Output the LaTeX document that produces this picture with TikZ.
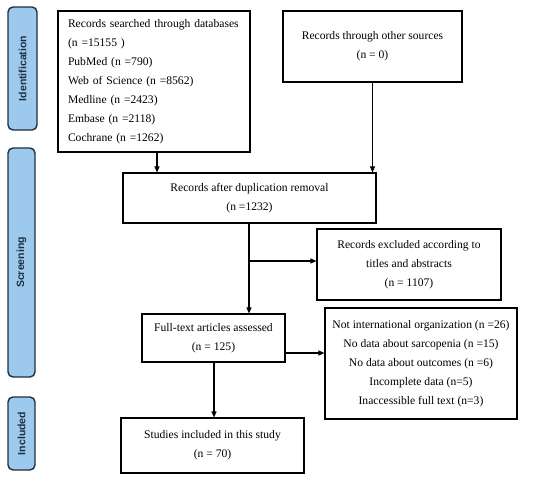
\documentclass[tikz,border=0pt]{standalone}
\usepackage{fontspec}
\setmainfont{Liberation Serif}
\newfontfamily\labfont{Liberation Sans}
\usetikzlibrary{arrows.meta}
\begin{document}
\begin{tikzpicture}[x=1pt,y=-1pt,
  box/.style={draw=black,line width=1.1pt,fill=white,inner sep=0pt,align=center,
    font=\fontsize{11.6}{19}\selectfont},
  phase/.style={draw=black!85!blue,line width=1.4pt,rounded corners=5pt,fill=cyan!25!blue!30!white,
    inner sep=0pt,font=\labfont\bfseries\fontsize{10.5}{12}\selectfont,text=black!90!blue},
  arr/.style={line width=1.1pt,-{Triangle[length=6pt,width=5pt]}},
  ln/.style={line width=1.1pt}]
\useasboundingbox (0,0) rectangle (550,479);
\fill[white] (0,0) rectangle (550,479);
\definecolor{phasefill}{HTML}{9DC9EE}
\definecolor{phasedraw}{HTML}{1F2F3F}
\tikzset{phase/.append style={fill=phasefill,draw=phasedraw,text=phasedraw}}
% phase labels
\node[phase,minimum width=29pt,minimum height=123pt] (pid) at (22.5,68.5) {};
\node[rotate=90,font=\labfont\bfseries\fontsize{10.5}{12}\selectfont,text=phasedraw] (tid) at (pid.center) {Identification};
\node[phase,minimum width=27pt,minimum height=229pt] (psc) at (21.5,262.5) {};
\node[rotate=90,font=\labfont\bfseries\fontsize{10.5}{12}\selectfont,text=phasedraw] (tsc) at (psc.center) {Screening};
\node[phase,minimum width=27pt,minimum height=73pt] (pin) at (21.5,433.5) {};
\node[rotate=90,font=\labfont\bfseries\fontsize{10.5}{12}\selectfont,text=phasedraw] (tin) at (pin.center) {Included};
% boxes
\node[box,minimum width=192pt,minimum height=141pt,align=left,text width=172pt] (db) at (154,81.5)
 {Records searched through databases\\(n =15155 )\\PubMed (n =790)\\Web of Science (n =8562)\\Medline (n =2423)\\Embase (n =2118)\\Cochrane (n =1262)};
\node[box,minimum width=179pt,minimum height=71pt] (other) at (372.5,46.5)
 {Records through other sources\\(n = 0)};
\node[box,minimum width=253pt,minimum height=50pt] (dup) at (249.5,198)
 {Records after duplication removal\\(n =1232)};
\node[box,minimum width=184pt,minimum height=71pt] (exc) at (409,264.5)
 {Records excluded according to\\titles and abstracts\\(n = 1107)};
\node[box,minimum width=143pt,minimum height=48pt] (full) at (213.5,338)
 {Full-text articles assessed\\(n = 125)};
\node[box,minimum width=192pt,minimum height=111pt] (exc2) at (421,363.5)
 {Not international organization (n =26)\\No data about sarcopenia (n =15)\\No data about outcomes (n =6)\\Incomplete data (n=5)\\Inaccessible full text (n=3)};
\node[box,minimum width=183pt,minimum height=55pt] (inc) at (212.5,445.5)
 {Studies included in this study\\(n = 70)};
% connectors
\draw[arr] (db.south -| 157,0) -- (dup.north -| 157,0);
\draw[arr] (other.south) -- (dup.north -| other.south);
\draw[arr] (dup.south -| 249,0) -- (full.north -| 249,0);
\coordinate (br) at (249,261);
\draw[arr] (br) -- (br -| exc.west);
\coordinate (fr) at (full.east |- 0,353);
\draw[arr] (fr) -- (fr -| exc2.west);
\draw[arr] (full.south -| 214,0) -- (inc.north -| 214,0);
\end{tikzpicture}
\end{document}
